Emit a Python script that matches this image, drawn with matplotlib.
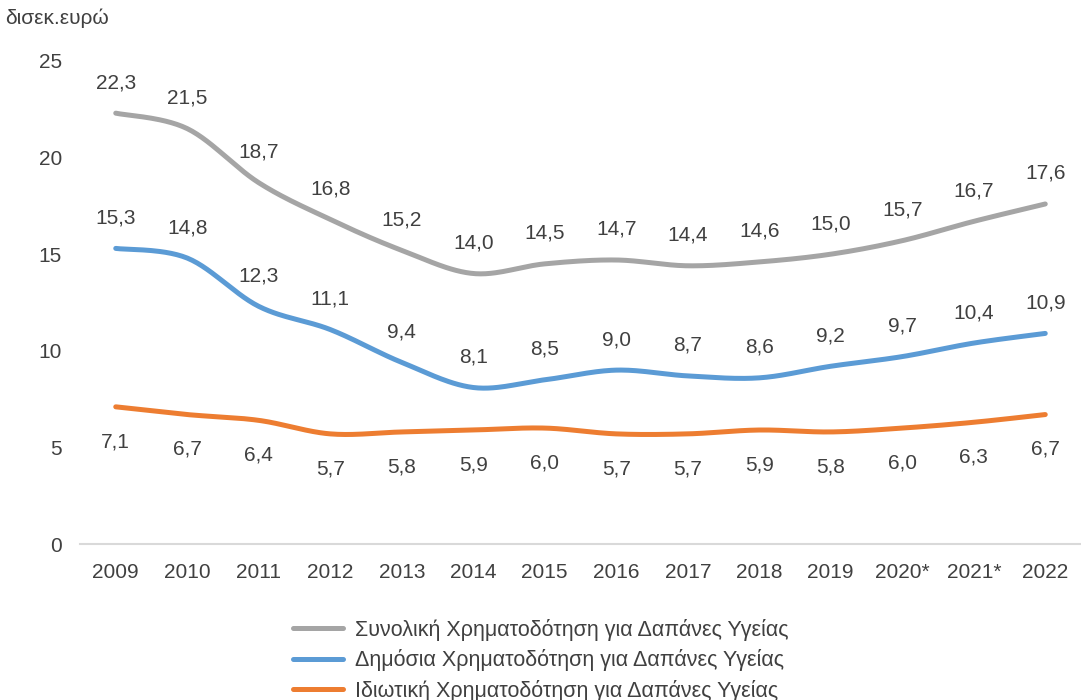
import numpy as np
import matplotlib.pyplot as plt

# Data (δισεκ. ευρώ)
years = ['2009', '2010', '2011', '2012', '2013', '2014', '2015', '2016',
         '2017', '2018', '2019', '2020*', '2021*', '2022']
total = [22.3, 21.5, 18.7, 16.8, 15.2, 14.0, 14.5, 14.7, 14.4, 14.6, 15.0, 15.7, 16.7, 17.6]
public = [15.3, 14.8, 12.3, 11.1, 9.4, 8.1, 8.5, 9.0, 8.7, 8.6, 9.2, 9.7, 10.4, 10.9]
private = [7.1, 6.7, 6.4, 5.7, 5.8, 5.9, 6.0, 5.7, 5.7, 5.9, 5.8, 6.0, 6.3, 6.7]

names = ['Συνολική Χρηματοδότηση για Δαπάνες Υγείας',
         'Δημόσια Χρηματοδότηση για Δαπάνες Υγείας',
         'Ιδιωτική Χρηματοδότηση για Δαπάνες Υγείας']
colors = ['#A5A5A5', '#5B9BD5', '#ED7D31']

plt.rcParams['font.family'] = ['Liberation Sans', 'DejaVu Sans']


def smooth(x, y, n=30):
    '''Excel-style smoothed line: Bezier segments with Catmull-Rom control points'''
    x = np.asarray(x, float)
    y = np.asarray(y, float)
    px = np.concatenate([[x[0]], x, [x[-1]]])
    py = np.concatenate([[y[0]], y, [y[-1]]])
    xs, ys = [], []
    t = np.linspace(0, 1, n)
    for i in range(1, len(x)):
        p0 = np.array([px[i - 1], py[i - 1]])
        p1 = np.array([px[i], py[i]])
        p2 = np.array([px[i + 1], py[i + 1]])
        p3 = np.array([px[i + 2], py[i + 2]])
        c1 = p1 + (p2 - p0) / 6
        c2 = p2 - (p3 - p1) / 6
        b = ((1 - t) ** 3)[:, None] * p1 + (3 * (1 - t) ** 2 * t)[:, None] * c1 \
            + (3 * (1 - t) * t ** 2)[:, None] * c2 + (t ** 3)[:, None] * p2
        xs.extend(b[:, 0])
        ys.extend(b[:, 1])
    return xs, ys


fig = plt.figure(figsize=(10.81, 7.0), dpi=100)
ax = fig.add_axes([80 / 1081, 1 - 544 / 700, 1 - 80 / 1081, (544 - 61) / 700])

x = np.arange(len(years))
series = [total, public, private]
offsets = [22, 22, -25]
for vals, name, col, off in zip(series, names, colors, offsets):
    sx, sy = smooth(x, vals)
    ax.plot(sx, sy, color=col, lw=3.6, solid_capstyle='round', label=name)
    for xi, v in zip(x, vals):
        ax.annotate(f'{v:.1f}'.replace('.', ','), (xi, v), xytext=(0, off),
                    textcoords='offset points', ha='center', va='center',
                    fontsize=15, color='#404040')

ax.set_xlim(-0.5, len(years) - 0.5)
ax.set_ylim(0, 25)
ax.set_yticks([0, 5, 10, 15, 20, 25])
ax.set_xticks(x)
ax.set_xticklabels(years)
ax.tick_params(axis='both', length=0, labelsize=15, labelcolor='#404040')
ax.tick_params(axis='y', pad=13)
ax.tick_params(axis='x', pad=14)
for s in ['top', 'right', 'left']:
    ax.spines[s].set_visible(False)
ax.spines['bottom'].set_color('#D9D9D9')
ax.spines['bottom'].set_linewidth(1.5)

fig.text(5 / 1081, 1 - 18 / 700, 'δισεκ.ευρώ', fontsize=15, color='#404040',
         ha='left', va='center')

fig.legend(loc='upper center', bbox_to_anchor=(541 / 1081, 1 - 608 / 700),
           frameon=False, fontsize=15.5, labelcolor='#404040', handlelength=2.3,
           handletextpad=0.6, labelspacing=0.4, borderpad=0)

fig.savefig('out.png', dpi=100)
